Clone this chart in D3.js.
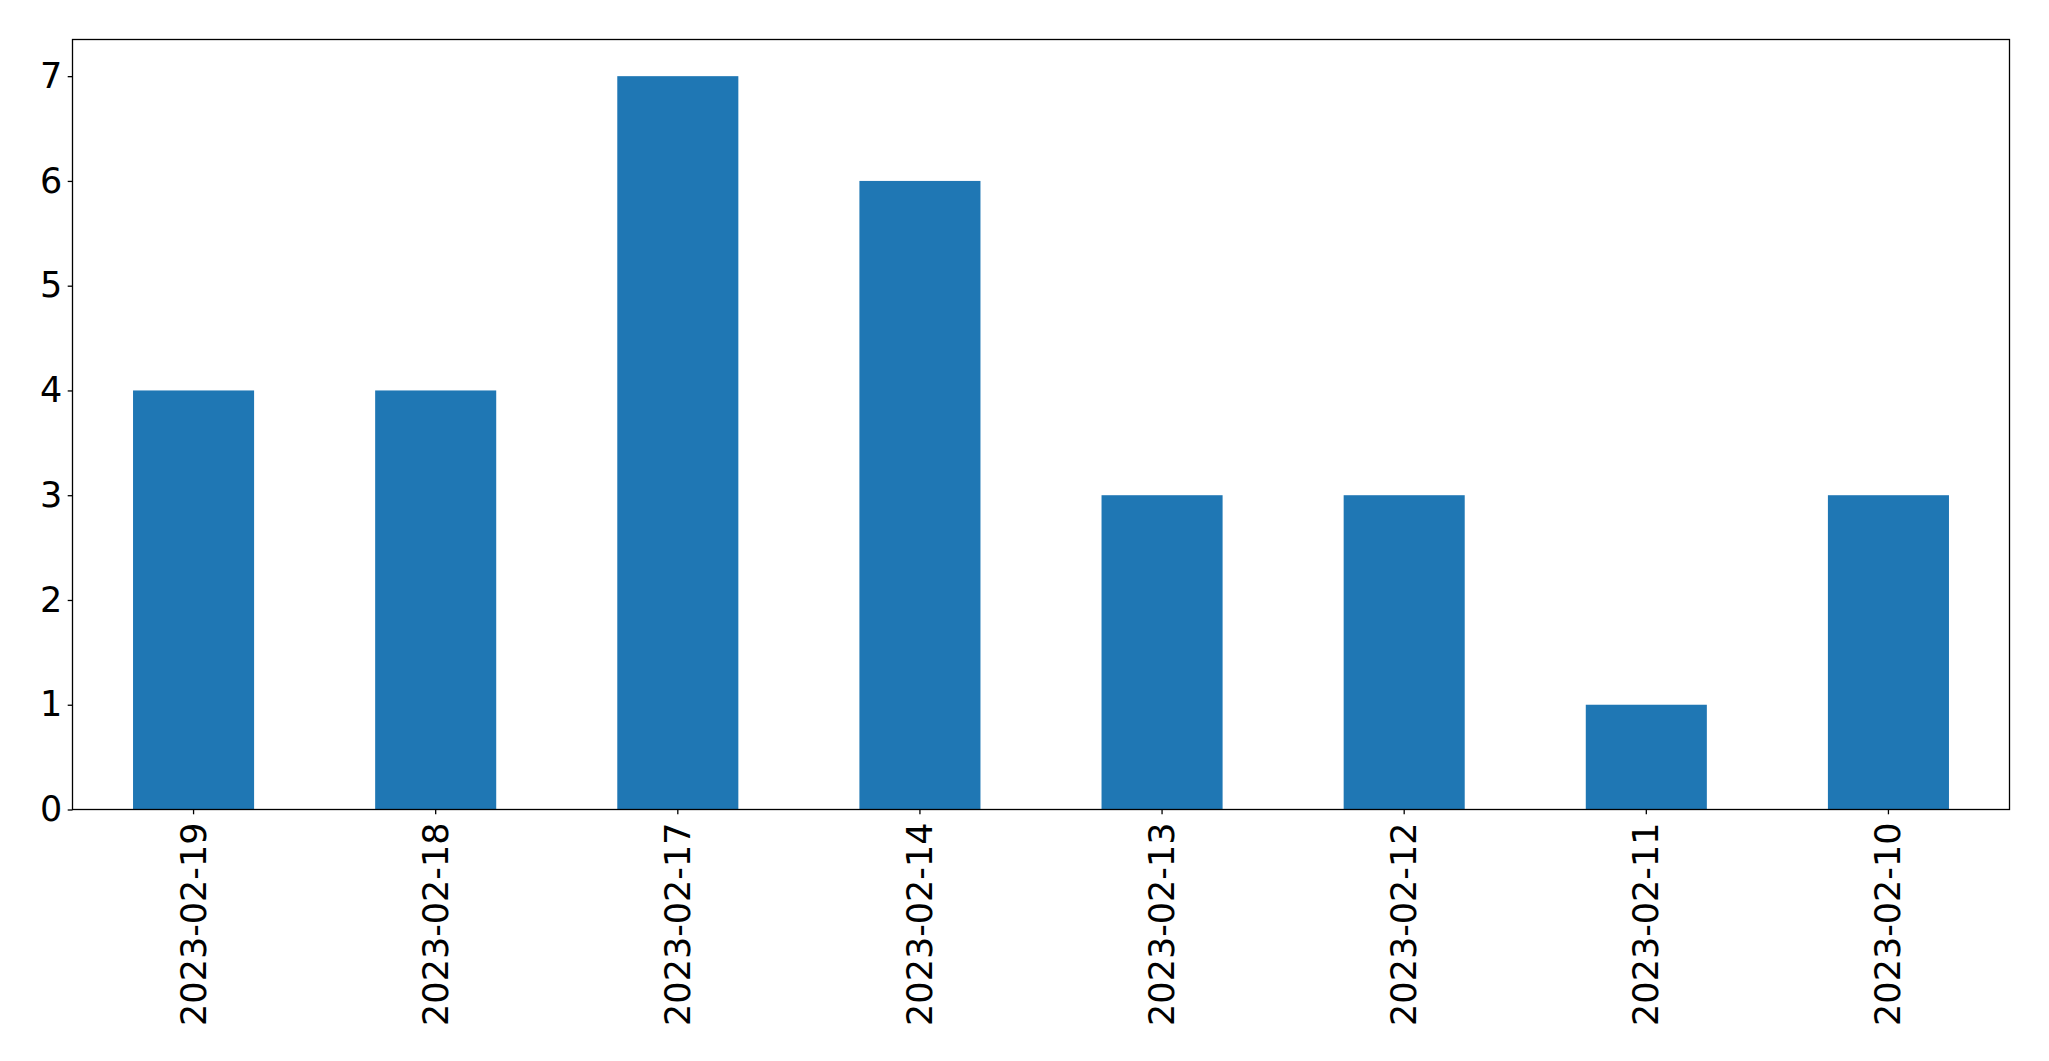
<!DOCTYPE html>
<html><head><meta charset="utf-8">
<script src="https://cdn.jsdelivr.net/npm/d3@7"></script>
<style>body{margin:0;background:#fff;}svg{display:block;}</style>
</head><body>
<script>
const categories = ["2023-02-19","2023-02-18","2023-02-17","2023-02-14","2023-02-13","2023-02-12","2023-02-11","2023-02-10"];
const values = [4,4,7,6,3,3,1,3];
const yTicks = [0,1,2,3,4,5,6,7];

const W = 2049, H = 1061;
const m = {left:72.5, right:2009.5, top:39.5, bottom:809.5};
const fontSize = 35;

const svg = d3.select("body").append("svg").attr("width", W).attr("height", H);

const x = d3.scaleBand().domain(categories).range([m.left, m.right]).paddingInner(0.5).paddingOuter(0.25);
const y = d3.scaleLinear().domain([0, 7.35]).range([m.bottom, m.top]);

svg.append("g").selectAll("rect").data(values).join("rect")
  .attr("x", (d,i) => x(categories[i]))
  .attr("width", x.bandwidth())
  .attr("y", d => y(d))
  .attr("height", d => y(0) - y(d))
  .attr("fill", "#1f77b4");

svg.append("rect").attr("x", m.left).attr("y", m.top)
  .attr("width", m.right - m.left).attr("height", m.bottom - m.top)
  .attr("fill", "none").attr("stroke", "#000").attr("stroke-width", 1.3);

const yAxis = d3.axisLeft(y).tickValues(yTicks).tickSize(4.8).tickPadding(5.5).tickFormat(d3.format("d"));
const gy = svg.append("g").attr("transform", `translate(${m.left},0)`).call(yAxis);
gy.select(".domain").remove();
gy.selectAll(".tick line").attr("stroke", "#000").attr("stroke-width", 1.3);
gy.selectAll(".tick text").attr("font-family", "DejaVu Sans").attr("font-size", fontSize).attr("fill", "#000");

const xAxis = d3.axisBottom(x).tickSize(4.8).tickPadding(0);
const gx = svg.append("g").attr("transform", `translate(0,${m.bottom})`).call(xAxis);
gx.select(".domain").remove();
gx.selectAll(".tick line").attr("stroke", "#000").attr("stroke-width", 1.3);
gx.selectAll(".tick text")
  .attr("font-family", "DejaVu Sans").attr("font-size", fontSize).attr("fill", "#000")
  .attr("text-anchor", "end")
  .attr("dy", null)
  .attr("y", 0)
  .attr("dominant-baseline", "central")
  .attr("transform", "translate(0,13) rotate(-90)");
</script>
</body></html>
